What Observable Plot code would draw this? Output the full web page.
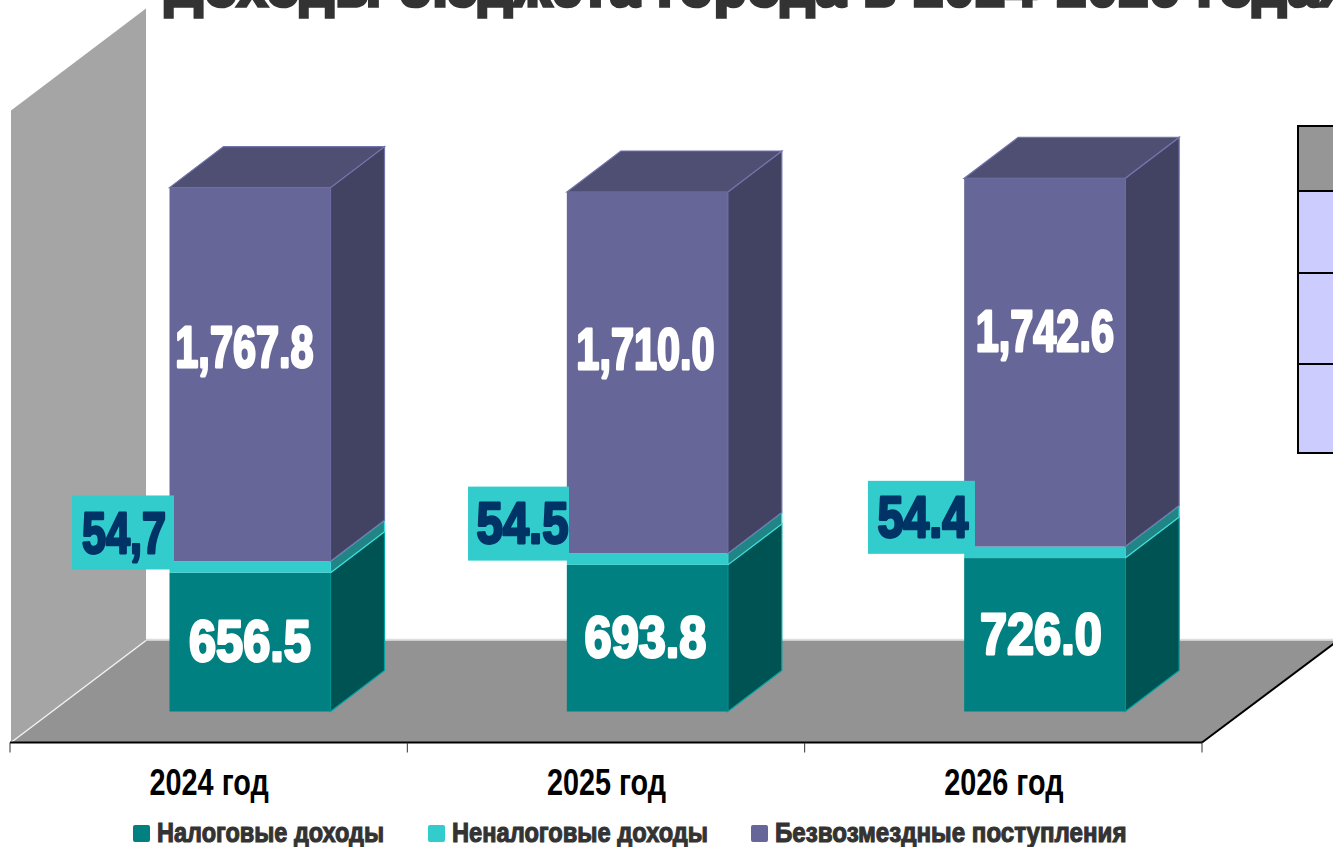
<!DOCTYPE html>
<html lang="ru">
<head>
<meta charset="utf-8">
<script src="https://cdn.jsdelivr.net/npm/d3@7"></script>
<script src="https://cdn.jsdelivr.net/npm/@observablehq/plot@0.6"></script>
<style>
  html, body { margin: 0; padding: 0; width: 1333px; height: 847px; overflow: hidden; background: #fff; position: relative; }
  svg { display: block; }
  #title { position: absolute; left: 165px; top: -42px; margin: 0; white-space: nowrap; font: 700 53px/60px "Liberation Sans", sans-serif; color: #333; -webkit-text-stroke: 3.6px #333; letter-spacing: 1.5px; }
  #side { position: absolute; left: 1297px; top: 125px; width: 60px; border-collapse: collapse; }
  #side td { border: 2px solid #000; padding: 0; width: 60px; }
  #legend { position: relative; height: 32px; font: 700 27px/32px "Liberation Sans", sans-serif; color: #333; -webkit-text-stroke: 1.1px #333; }
  #legend span { position: absolute; top: 2px; white-space: nowrap; transform-origin: left center; }
  #legend i { position: absolute; top: 10px; width: 17px; height: 17px; border-radius: 2px; }
</style>
</head>
<body>
<h1 id="title"></h1>
<table id="side"></table>
<div id="chart"></div>
<div id="legend"></div>
<script>
const titleText = "Доходы бюджета города в 2024-2026 годах";
const years = ["2024 год", "2025 год", "2026 год"];
const seriesNames = ["Налоговые доходы", "Неналоговые доходы", "Безвозмездные поступления"];
const taxIncome = [656.5, 693.8, 726.0];
const nonTaxIncome = [54.7, 54.5, 54.4];
const grants = [1767.8, 1710.0, 1742.6];
const nonTaxLabels = ["54,7", "54.5", "54.4"];

// styling constants
const frontColors = ["#008080", "#33cccc", "#666699"];
const sideColors = ["#005353", "#218585", "#424263"];
const edgeColors = ["#00a3a3", "#3fe0e0", "#7474ad"];
const topColor = "#4f4f74";
const barInsetLeft = 159.5, barInsetRight = 76.83;
const barD = [54, -41], insetD = [41, -31], floorD = [136, -102];
const labelFont = {fontFamily: '"Liberation Sans", sans-serif', fontWeight: 700};

const stacked = years.flatMap((year, i) => {
  let base = 0;
  return [taxIncome, nonTaxIncome, grants].map((vals, s) => {
    const row = {year, i, s, series: seriesNames[s], value: vals[i], y1: base, y2: base + vals[i]};
    base += vals[i];
    return row;
  });
});

const pts = a => a.map(p => p.join(",")).join(" ");
const sel = () => d3.create("svg:g");

function backdrop(index, {x, y}) {
  const g = sel();
  const left = x(years[0]), step = x.bandwidth(), right = left + step * years.length;
  const y0 = y(0) - insetD[1], yMax = y(3000) - insetD[1] + 2;
  g.append("polygon").attr("points", pts([[left + 1, y0], [left + 1, yMax], [left + floorD[0], yMax + floorD[1]], [left + floorD[0], y0 + floorD[1]]]))
    .attr("fill", "#a5a5a5");
  g.append("polygon").attr("points", pts([[left, y0], [left + floorD[0], y0 + floorD[1]], [right + floorD[0], y0 + floorD[1]], [right, y0]]))
    .attr("fill", "#939393");
  g.append("line").attr("x1", left + floorD[0]).attr("y1", y0 + floorD[1] - 1).attr("x2", right + floorD[0]).attr("y2", y0 + floorD[1] - 1).attr("stroke", "#ddd").attr("stroke-width", 1.5);
  g.append("line").attr("x1", left + 1).attr("y1", y0).attr("x2", left + floorD[0]).attr("y2", y0 + floorD[1]).attr("stroke", "#f2f2f2").attr("stroke-width", 1.5);
  g.append("line").attr("x1", right).attr("y1", y0).attr("x2", right + floorD[0]).attr("y2", y0 + floorD[1]).attr("stroke", "#000").attr("stroke-width", 2);
  return g.node();
}

function axisLine(index, {x, y}) {
  const g = sel();
  const left = x(years[0]), step = x.bandwidth(), y0 = y(0) - insetD[1];
  g.append("line").attr("x1", left).attr("y1", y0).attr("x2", left + step * years.length).attr("y2", y0).attr("stroke", "#000").attr("stroke-width", 2.2);
  d3.range(years.length + 1).forEach(k => g.append("line").attr("x1", left + step * k).attr("x2", left + step * k).attr("y1", y0).attr("y2", y0 + 10).attr("stroke", "#333").attr("stroke-width", 1));
  return g.node();
}

function sideFaces(index, {x, y}) {
  const g = sel();
  stacked.forEach(d => {
    const xr = x(d.year) + x.bandwidth() - barInsetRight, xl = x(d.year) + barInsetLeft;
    const yb = y(d.y1), yt = y(d.y2);
    g.append("polygon").attr("points", pts([[xr, yb], [xr + barD[0], yb + barD[1]], [xr + barD[0], yt + barD[1]], [xr, yt]]))
      .attr("fill", sideColors[d.s]).attr("stroke", edgeColors[d.s]).attr("stroke-width", 1.2);
    if (d.s === 2) g.append("polygon").attr("points", pts([[xl, yt], [xl + barD[0], yt + barD[1]], [xr + barD[0], yt + barD[1]], [xr, yt]]))
      .attr("fill", topColor).attr("stroke", edgeColors[d.s]).attr("stroke-width", 1.2);
  });
  return g.node();
}

// callout box behind each non-tax label: offset from the bar's left edge / value, width
const callouts = [{dx: -97.5, dy: -71.5, w: 102, h: 74}, {dx: -98.8, dy: -72.5, w: 101, h: 74}, {dx: -96.2, dy: -71.5, w: 107, h: 73}];
function calloutBoxes(index, {x, y}) {
  const g = sel();
  stacked.filter(d => d.s === 1).forEach(d => {
    const c = callouts[d.i];
    g.append("rect").attr("x", x(d.year) + barInsetLeft + c.dx).attr("y", y((d.y1 + d.y2) / 2) + c.dy)
      .attr("width", c.w).attr("height", c.h).attr("fill", "#33cccc");
  });
  return g.node();
}

const textOffsets = {
  0: [{dx: 40.8, dy: 0}, {dx: 39, dy: 0}, {dx: 37, dy: 0}],
  2: [{dx: 35.3, dy: -26}, {dx: 39, dy: -23}, {dx: 41, dy: -31}],
  1: [{dx: -85.2, dy: -33}, {dx: -84, dy: -35}, {dx: -81, dy: -34}]
};
// horizontal narrowing per label, since no condensed face is installed
const narrowBySeries = [0.84, 0, 0.715];
const narrowCallout = {"54,7": 0.745, "54.5": 0.815, "54.4": 0.805};
const valueLabels = stacked.map(d => {
  const off = textOffsets[d.s][d.i];
  return Plot.text([d], {
    x: "year", y: r => (r.y1 + r.y2) / 2,
    text: r => r.s === 1 ? nonTaxLabels[r.i] : d3.format(",.1f")(r.value),
    dx: off.dx, dy: off.dy, lineAnchor: "middle", textAnchor: "middle",
    fontSize: 58, ...labelFont,
    fill: d.s === 1 ? "#003366" : "#fff",
    stroke: d.s === 1 ? "#003366" : "#fff", strokeWidth: 2.8,
    ariaLabel: "value label"
  });
});

const chart = Plot.plot({
  width: 1333, height: 815,
  marginTop: 0, marginLeft: 0, marginRight: 0, marginBottom: 73,
  style: {background: "transparent", overflow: "visible"},
  x: {domain: years, range: [10, 1202], padding: 0, round: false, axis: null, label: null},
  y: {domain: [0, 3000], range: [711.5, 77.5], axis: null},
  color: {domain: seriesNames, range: frontColors},
  marks: [
    backdrop,
    axisLine,
    Plot.axisX({domain: years, label: null, tickSize: 0, tickPadding: 27, fontSize: 36, ...labelFont, fill: "#000", stroke: "#000", strokeWidth: 1.4}),
    sideFaces,
    Plot.barY(stacked, {x: "year", y1: "y1", y2: "y2", fill: "series", insetLeft: barInsetLeft, insetRight: barInsetRight}),
    calloutBoxes,
    ...valueLabels
  ]
});
document.getElementById("chart").append(chart);

chart.querySelectorAll("text").forEach(t => {
  const s = t.textContent;
  let k = 0.8;
  if (s in narrowCallout) k = narrowCallout[s];
  else if (/^\d,\d{3}\./.test(s)) k = narrowBySeries[2];
  else if (/^\d{3}\./.test(s)) k = narrowBySeries[0];
  t.setAttribute("textLength", t.getComputedTextLength() * k);
  t.setAttribute("lengthAdjust", "spacingAndGlyphs");
});

document.getElementById("title").textContent = titleText;

const sideRows = ["#969696", "#ccccff", "#ccccff", "#ccccff"];
const sideHeights = [63, 80, 89, 87];
document.getElementById("side").innerHTML = sideRows.map((c, i) => `<tr><td style="background:${c};height:${sideHeights[i]}px"></td></tr>`).join("");

const legendPos = [[133, 157, .87], [428, 452, .876], [751, 775, .893]];
document.getElementById("legend").innerHTML = seriesNames.map((n, i) =>
  `<i style="left:${legendPos[i][0]}px;background:${frontColors[i]}"></i><span style="left:${legendPos[i][1]}px;transform:scaleX(${legendPos[i][2]})">${n}</span>`).join("");
</script>
</body>
</html>
